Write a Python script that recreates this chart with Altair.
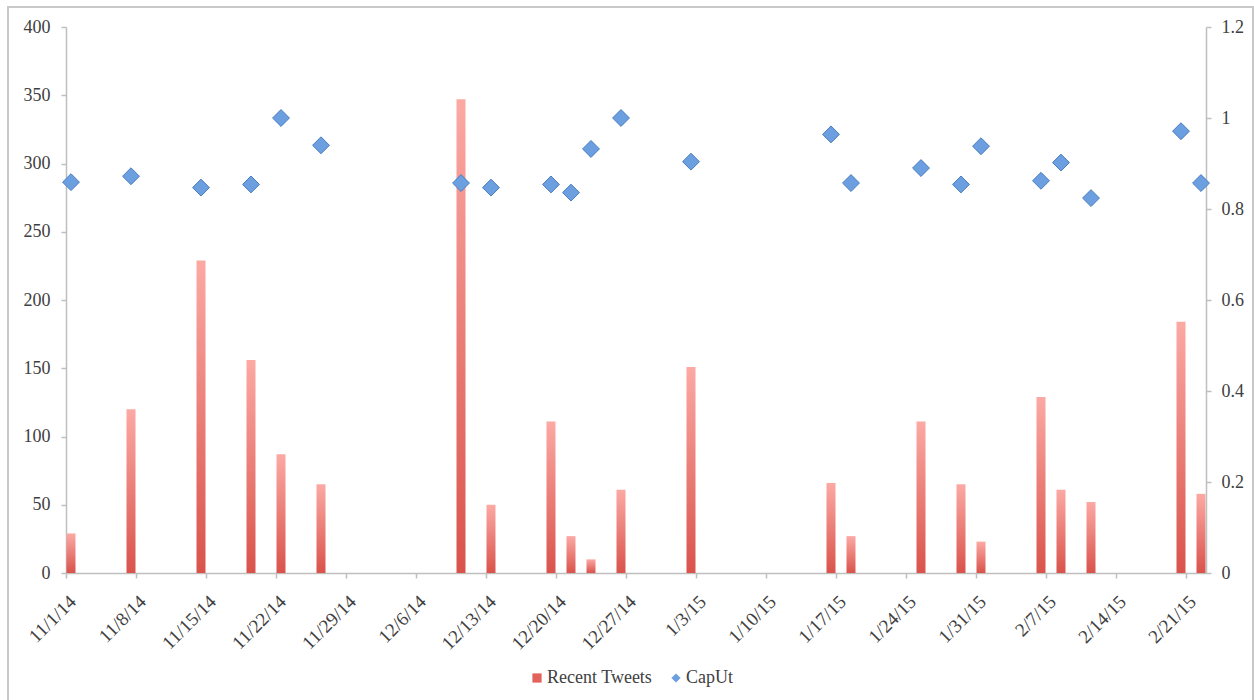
import altair as alt
import pandas as pd

# ---- data ----
dates = [
    "2014-11-01", "2014-11-07", "2014-11-14", "2014-11-19", "2014-11-22", "2014-11-26",
    "2014-12-10", "2014-12-13", "2014-12-19", "2014-12-21", "2014-12-23", "2014-12-26",
    "2015-01-02", "2015-01-16", "2015-01-18", "2015-01-25", "2015-01-29", "2015-01-31",
    "2015-02-06", "2015-02-08", "2015-02-11", "2015-02-20", "2015-02-22",
]
recent_tweets = [29, 120, 229, 156, 87, 65, 347, 50, 111, 27, 10, 61,
                 151, 66, 27, 111, 65, 23, 129, 61, 52, 184, 58]
caput = [0.859, 0.872, 0.847, 0.854, 1.0, 0.940, 0.857, 0.847, 0.854, 0.836, 0.932, 1.0,
         0.904, 0.964, 0.857, 0.890, 0.854, 0.938, 0.862, 0.902, 0.824, 0.971, 0.857]
series_names = ["Recent Tweets", "CapUt"]
tick_dates = [
    (2014, 11, 1), (2014, 11, 8), (2014, 11, 15), (2014, 11, 22), (2014, 11, 29),
    (2014, 12, 6), (2014, 12, 13), (2014, 12, 20), (2014, 12, 27), (2015, 1, 3),
    (2015, 1, 10), (2015, 1, 17), (2015, 1, 24), (2015, 1, 31), (2015, 2, 7),
    (2015, 2, 14), (2015, 2, 21),
]
left_ticks = [0, 50, 100, 150, 200, 250, 300, 350, 400]
right_ticks = [0, 0.2, 0.4, 0.6, 0.8, 1.0, 1.2]

df = pd.DataFrame({
    "date": [d + "T12:00:00" for d in dates],
    "tweets": recent_tweets,
    "caput": caput,
    "series": "CapUt",
})

FONT = "Liberation Serif"
TXT = "#404040"
LINE = "#bfbfbf"

x_scale = alt.Scale(domain=[alt.DateTime(year=2014, month=11, date=1),
                            alt.DateTime(year=2015, month=2, date=23)],
                    nice=False, padding=0)
x_axis = alt.Axis(
    values=[alt.DateTime(year=y, month=m, date=d) for (y, m, d) in tick_dates],
    format="%-m/%-d/%y", labelAngle=-45, labelAlign="right", labelBaseline="top",
    labelPadding=14, title=None, tickSize=5, labelFlush=False, labelOverlap=False,
    labelFontSize=19,
)

border = alt.Chart(pd.DataFrame({"a": [0]})).mark_rect(
    fill=None, stroke="#c8c8c8", strokeWidth=2
).encode(
    x=alt.value(-58), x2=alt.value(1187), y=alt.value(-20), y2=alt.value(690)
)

bars = alt.Chart(df).mark_bar(
    width=9,
    color=alt.Gradient(
        gradient="linear", x1=0, y1=0, x2=0, y2=1,
        stops=[alt.GradientStop(offset=0, color="#fca9a4"),
               alt.GradientStop(offset=1, color="#d9534b")],
    ),
).encode(
    x=alt.X("date:T", scale=x_scale, axis=x_axis),
    y=alt.Y("tweets:Q", scale=alt.Scale(domain=[0, 400], nice=False),
            axis=alt.Axis(values=left_ticks, title=None, orient="left", tickSize=5,
                          labelPadding=11)),
)

legend_kw = dict(title=None, orient="none", direction="horizontal",
                 legendX=462, legendY=642, columnPadding=14,
                 symbolSize=85, labelFont=FONT, labelFontSize=18,
                 labelColor=TXT, symbolStrokeWidth=0, labelOffset=1)

points = alt.Chart(df).mark_point(
    filled=True, shape="diamond", size=285, stroke="#4a7cc0", strokeWidth=1, opacity=1
).encode(
    x=alt.X("date:T", scale=x_scale, axis=x_axis),
    y=alt.Y("caput:Q", scale=alt.Scale(domain=[0, 1.2], nice=False),
            axis=alt.Axis(values=right_ticks, title=None, orient="right", format="~g",
                          tickSize=5, labelPadding=10)),
    color=alt.Color("series:N",
                    scale=alt.Scale(domain=series_names, range=["#e3625b", "#6b9fe0"]),
                    legend=alt.Legend(**legend_kw)),
    shape=alt.Shape("series:N",
                    scale=alt.Scale(domain=series_names, range=["square", "diamond"]),
                    legend=alt.Legend(**legend_kw)),
)

chart = alt.layer(border, bars, points).resolve_scale(y="independent").properties(
    width=1140, height=546,
    autosize=alt.AutoSizeParams(type="none"),
    padding={"left": 66, "top": 27, "right": 48, "bottom": 127},
    background="white",
).configure_view(stroke=None).configure_axis(
    grid=False, domainColor=LINE, tickColor=LINE, domainWidth=1.5, tickWidth=1.5,
    labelFont=FONT, labelFontSize=18, labelColor=TXT,
)

chart.save("out.html", embed_options={"renderer": "svg", "actions": False})
